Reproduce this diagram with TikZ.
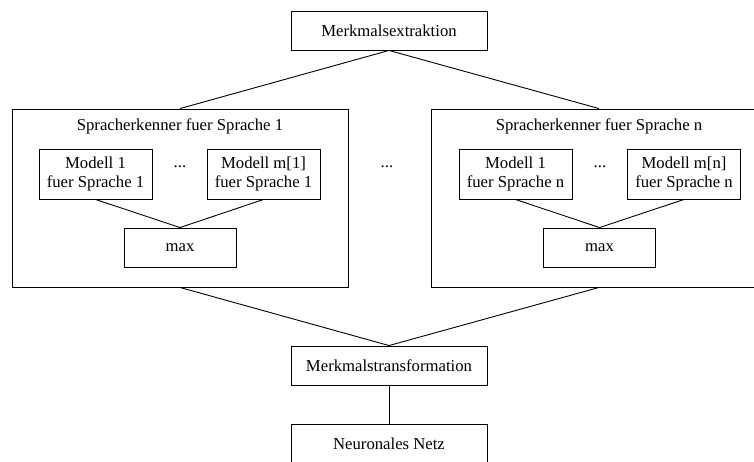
\documentclass[tikz,border=0pt]{standalone}
\usepackage{fontspec}
\setmainfont{Liberation Serif}
\begin{document}
\begin{tikzpicture}[x=1pt,y=-1pt,
  every node/.style={font=\fontsize{16.7}{18.5}\selectfont, inner sep=0pt},
  box/.style={draw, line width=0.9pt, rectangle, align=center},
  wide/.style={box, minimum width=196pt, minimum height=39pt},
  model/.style={box, minimum width=113pt, minimum height=50pt},
  maxbox/.style={box, minimum width=112pt, minimum height=39pt},
  group/.style={box, minimum width=336pt, minimum height=178pt},
  conn/.style={line width=0.9pt}]
\useasboundingbox (0,0) rectangle (754,461);
\clip (0,0) rectangle (754,461);
\fill[white] (0,0) rectangle (754,461);

\node[wide] (ext) at (389,30.5) {Merkmalsextraktion};

\node[group] (L) at (180,198) {};
\node (Lt) at (180,126) {Spracherkenner fuer Sprache 1};
\node[model] (Lm1) at (95.5,174) {Modell 1\\fuer Sprache 1};
\node[model] (Lmm) at (263.5,174) {Modell m[1]\\fuer Sprache 1};
\node (Ld) at (180,167) {...};
\node[maxbox] (Lmax) at (180,247.5) {max};

\node (Md) at (387,167) {...};

\node[group] (R) at (599,198) {};
\node (Rt) at (599,126) {Spracherkenner fuer Sprache n};
\node[model] (Rm1) at (515.5,174) {Modell 1\\fuer Sprache n};
\node[model] (Rmm) at (684,174) {Modell m[n]\\fuer Sprache n};
\node (Rd) at (600,167) {...};
\node[maxbox] (Rmax) at (599.5,247.5) {max};

\node[wide] (tr) at (389,365.5) {Merkmalstransformation};
\node[wide] (nn) at (389,443.5) {Neuronales Netz};

\draw[conn] (ext.south) -- (L.north);
\draw[conn] (ext.south) -- (R.north);
\draw[conn] (Lm1.south) -- (Lmax.north);
\draw[conn] (Lmm.south) -- (Lmax.north);
\draw[conn] (Rm1.south) -- (Rmax.north);
\draw[conn] (Rmm.south) -- (Rmax.north);
\draw[conn] (L.south) -- (tr.north);
\draw[conn] (R.south) -- (tr.north);
\draw[conn] (tr.south) -- (nn.north);
\end{tikzpicture}
\end{document}
